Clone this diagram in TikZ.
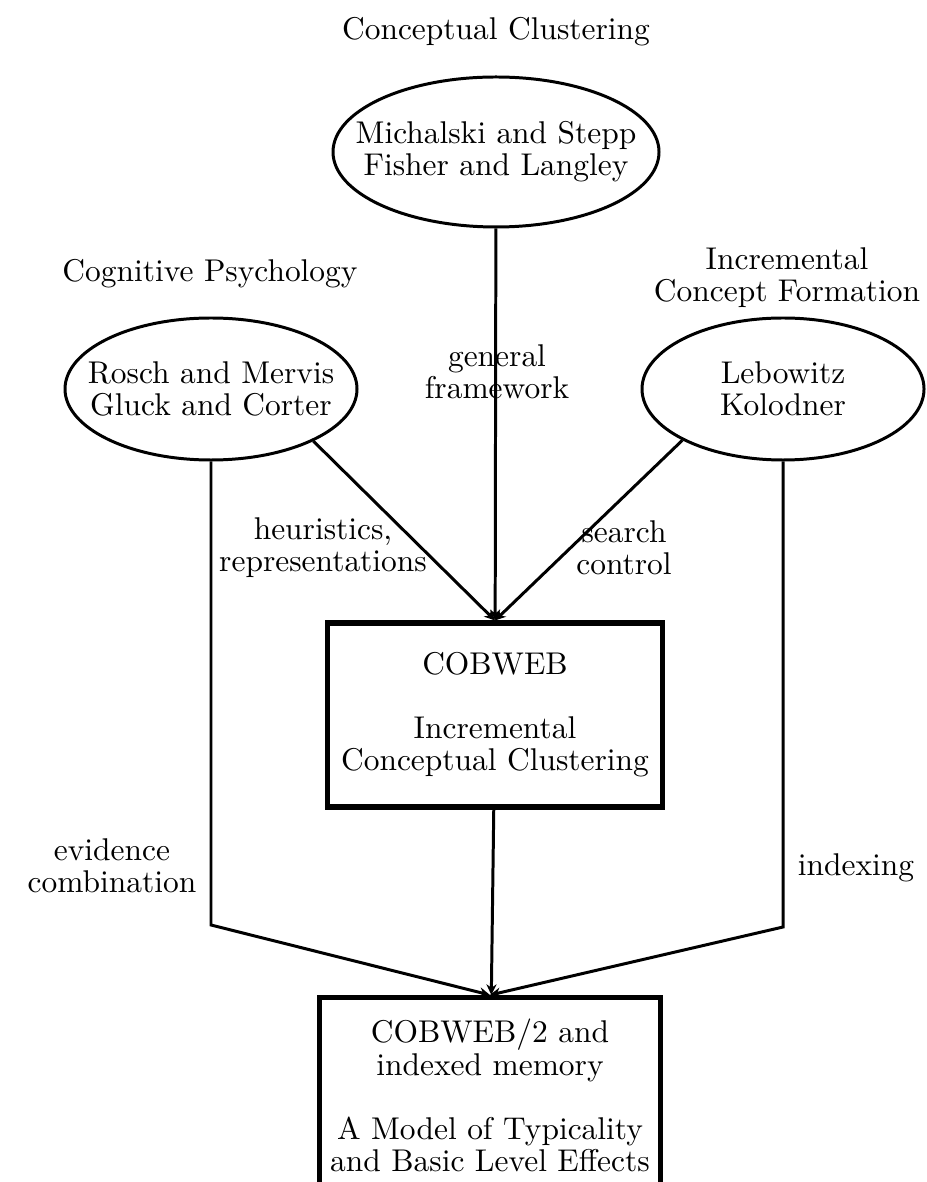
\documentclass[tikz,border=0pt]{standalone}
\usepackage{tikz}
\usetikzlibrary{arrows.meta,positioning,shapes.geometric}
\newlength{\pxunit}
\setlength{\pxunit}{0.318pt}

\begin{document}
\begin{tikzpicture}[
  x=\pxunit, y=-\pxunit,
  font=\fontsize{10}{10.2}\selectfont,
  blob/.style={draw, ellipse, line width=0.95pt, inner sep=0pt},
  box/.style={draw, rectangle, line width=1.6pt, align=center, minimum width=335\pxunit},
  lbl/.style={align=center},
  arrow/.style={-{Stealth[length=3.4pt,width=3.2pt]}, line width=0.95pt}
]
\useasboundingbox (0,0) rectangle (926,1182);

% research areas
\node[lbl] (cctitle) at (496,32) {Conceptual Clustering};
\node[lbl] (cptitle) at (210,274) {Cognitive Psychology};
\node[lbl] (ictitle) at (787,278) {Incremental\\Concept Formation};

% sources
\node[blob, minimum width=326\pxunit, minimum height=150\pxunit] (michalski) at (496,152) {};
\node[lbl] (michalskitxt) at (michalski) {Michalski and Stepp\\Fisher and Langley};
\node[blob, minimum width=292\pxunit, minimum height=142\pxunit] (rosch) at (211,389) {};
\node[lbl] (roschtxt) at (rosch) {Rosch and Mervis\\Gluck and Corter};
\node[blob, minimum width=282\pxunit, minimum height=142\pxunit] (lebowitz) at (783,389) {};
\node[lbl] (lebowitztxt) at (lebowitz) {Lebowitz\\Kolodner};

% systems
\node[box, minimum height=184\pxunit] (cobweb) at (495,715) {COBWEB\\[10.2pt]Incremental\\Conceptual Clustering};
\node[box, anchor=north, minimum height=196\pxunit] (model) at (490,995) {COBWEB/2 and\\indexed memory\\[10.2pt]A Model of Typicality\\and Basic Level Effects};

% edge labels
\node[lbl] (framework) at (497,372) {general\\framework};
\node[lbl] (heuristics) at (323,548) {heuristics,\\representations};
\node[lbl] (search) at (624,548) {search\\control};
\node[lbl] (evidence) at (112,866) {evidence\\combination};
\node[lbl] (indexing) at (856,868) {indexing};

\coordinate (lbend) at (211,925);
\coordinate (rbend) at (783,927);

\draw[arrow] (michalski) -- (cobweb);
\draw[arrow] (rosch.-27) -- (cobweb.north);
\draw[arrow] (lebowitz.207) -- (cobweb.north);
\draw[arrow] (cobweb) -- (model);
\draw[arrow] (rosch.south) -- (lbend) -- (model.north);
\draw[arrow] (lebowitz.south) -- (rbend) -- (model.north);
\end{tikzpicture}
\end{document}
